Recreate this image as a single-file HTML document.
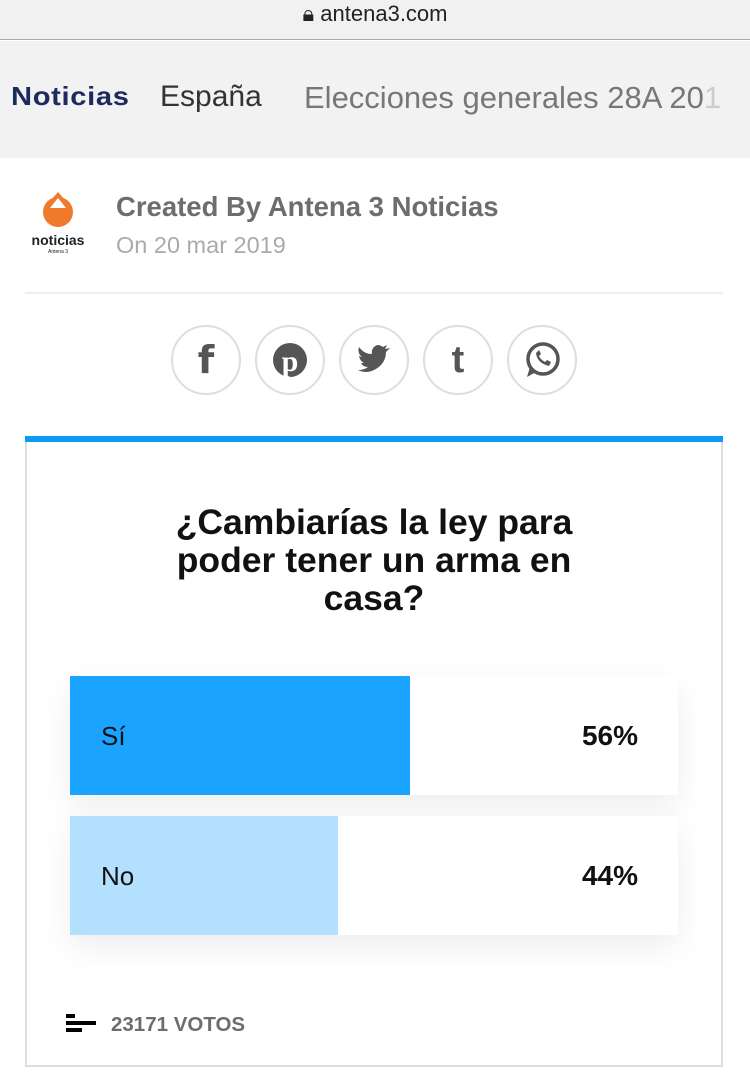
<!DOCTYPE html>
<html><head><meta charset="utf-8"><style>
*{margin:0;padding:0;box-sizing:border-box}
body{width:750px;height:1084px;background:#fff;font-family:"Liberation Sans",sans-serif;position:relative;overflow:hidden}
.abs{position:absolute}
.circ{position:absolute;top:325px;width:70px;height:70px;border:2px solid #ddd;border-radius:50%;display:flex;align-items:center;justify-content:center;color:#555;font-weight:bold}
.bar{position:absolute;left:70px;width:608px;height:119px;background:#fff;box-shadow:0 12px 30px rgba(0,0,0,0.07)}
.bar .fill{position:absolute;left:0;top:0;bottom:0}
.bar .lab{position:absolute;left:31px;top:45px;font-size:26px;color:#111}
.bar .pct{position:absolute;right:40px;top:44px;font-size:28px;font-weight:bold;color:#111}
</style></head><body>
<div class="abs" style="left:0;top:0;width:750px;height:40px;background:#f1f1f1;border-bottom:1px solid #aaa"></div>
<div class="abs" style="left:0;top:1px;width:750px;text-align:center;font-size:22px;color:#222">&#128274;&#xFE0E; antena3.com</div>
<div class="abs" style="left:0;top:41px;width:750px;height:117px;background:#f2f2f2"></div>
<div class="abs" style="left:11px;top:81px;font-size:26px;font-weight:bold;color:#1c2a5e;letter-spacing:0.6px;transform:scaleX(1.12);transform-origin:left">Noticias</div>
<div class="abs" style="left:160px;top:80px;font-size:30px;color:#333">España</div>
<div class="abs" style="left:304px;top:80px;font-size:31px;color:#777;white-space:nowrap">Elecciones generales 28A 20<span style="color:#ccc">1</span></div>
<svg class="abs" style="left:26px;top:190px" width="64" height="66" viewBox="0 0 64 66">
<circle cx="32" cy="22" r="15" fill="#f07a2c"/>
<polygon points="32,2 18,18 46,18" fill="#f07a2c"/>
<polygon points="32,8 24,18 40,18" fill="#fff"/>
<text x="32" y="55" font-size="14" font-weight="bold" text-anchor="middle" fill="#222" font-family="Liberation Sans">noticias</text>
<text x="32" y="63" font-size="5" text-anchor="middle" fill="#222">Antena 3</text>
</svg>
<div class="abs" style="left:116px;top:191px;font-size:27.5px;font-weight:bold;color:#6d6d6d">Created By Antena 3 Noticias</div>
<div class="abs" style="left:116px;top:232px;font-size:23.5px;color:#aaa">On 20 mar 2019</div>
<div class="abs" style="left:25px;top:292px;width:698px;height:2px;background:#eee"></div>
<div class="circ" style="left:171px;font-size:38px;font-family:'DejaVu Sans'">f</div>
<div class="circ" style="left:255px"><svg width="36" height="36" viewBox="0 0 36 36"><circle cx="18" cy="18" r="17" fill="#555"/><text x="18" y="29" font-size="30" font-weight="bold" text-anchor="middle" fill="#fff" font-family="Liberation Serif">p</text></svg></div>
<div class="circ" style="left:339px"><svg width="36" height="32" viewBox="0 0 36 32"><path d="M2 26 Q10 30 18 26 Q30 20 30 8 L34 4 L29 5 L31 1 L27 3 Q22 -1 18 3 Q15 6 16 10 Q8 10 3 3 Q1 9 6 13 L3 12 Q4 17 8 19 L5 19 Q7 23 12 23 Q8 26 2 26Z" fill="#555"/></svg></div>
<div class="circ" style="left:423px;font-size:38px">t</div>
<div class="circ" style="left:507px"><svg width="38" height="38" viewBox="0 0 38 38"><circle cx="20" cy="18" r="15" fill="none" stroke="#555" stroke-width="3.5"/><path d="M4 36 L7 26 L13 31Z" fill="#555"/><path d="M13 12 Q14 22 26 25 L28 21 L24 19 L22 21 Q17 18 16 15 L18 13 L16 9Z" fill="#555"/></svg></div>
<div class="abs" style="left:25px;top:436px;width:698px;height:631px;border:2px solid #ddd;border-top:none"></div>
<div class="abs" style="left:25px;top:436px;width:698px;height:6px;background:#0a9cf5"></div>
<div class="abs" style="left:74px;top:503px;width:600px;text-align:center;font-size:35.5px;font-weight:bold;line-height:38px;color:#111">¿Cambiarías la ley para<br>poder tener un arma en<br>casa?</div>
<div class="bar" style="top:676px"><div class="fill" style="width:340px;background:#1aa3ff"></div><div class="lab">Sí</div><div class="pct">56%</div></div>
<div class="bar" style="top:816px"><div class="fill" style="width:268px;background:#b3e0fd"></div><div class="lab">No</div><div class="pct">44%</div></div>
<div class="abs" style="left:66px;top:1014px;width:9px;height:4px;background:#000"></div>
<div class="abs" style="left:66px;top:1021px;width:30px;height:4px;background:#000"></div>
<div class="abs" style="left:66px;top:1028px;width:16px;height:4px;background:#000"></div>
<div class="abs" style="left:111px;top:1013px;font-size:20.5px;font-weight:bold;color:#6d6d6d">23171 VOTOS</div>
</body></html>
